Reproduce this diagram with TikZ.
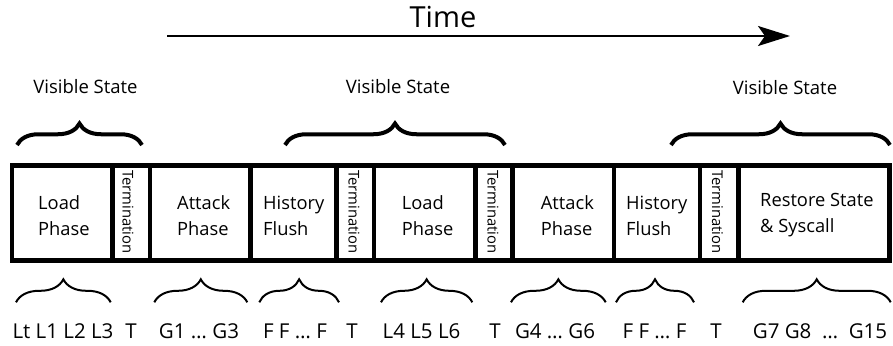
\documentclass[tikz,border=0pt]{standalone}
\usepackage{fontspec}
\setmainfont{Open Sans}
\usetikzlibrary{arrows.meta,decorations.pathreplacing}
\newcommand\myfs[1]{\fontsize{#1}{#1}\selectfont}
\begin{document}
\begin{tikzpicture}[x=1pt,y=-1pt,
  seg/.style={draw, line width=4.5pt, inner sep=0pt, outer sep=0pt, minimum height=95pt},
  boxtext/.style={anchor=base west, inner sep=0pt, font=\myfs{18.3}},
  termtext/.style={rotate=-90, inner sep=0pt, font=\myfs{14.8}},
  vistext/.style={anchor=base, inner sep=0pt, font=\myfs{18.5}},
  bottext/.style={anchor=base, inner sep=0pt, font=\myfs{20.5}},
  topbrace/.style={decorate, decoration={brace, amplitude=21.5pt}, line width=4pt},
  botbrace/.style={decorate, decoration={brace, amplitude=23pt}, line width=2pt}]
\useasboundingbox (0,0) rectangle (893,345);

% time arrow
\node[anchor=base, inner sep=0pt, font=\myfs{29}] (time) at (443,28) {Time};
\coordinate (ta) at (167,36);
\coordinate (tb) at (790,36);
\draw[line width=2.2pt, -{Stealth[length=32pt,width=20pt,inset=7pt]}] (ta) -- (tb);

% segments
\node[seg, minimum width=100.7pt] (s1) at (62.35,213) {};
\node[seg, minimum width=37.3pt] (s2) at (131.35,213) {};
\node[seg, minimum width=100.7pt] (s3) at (200.35,213) {};
\node[seg, minimum width=86pt] (s4) at (293.7,213) {};
\node[seg, minimum width=37.3pt] (s5) at (355.35,213) {};
\node[seg, minimum width=101.7pt] (s6) at (424.85,213) {};
\node[seg, minimum width=37pt] (s7) at (494.2,213) {};
\node[seg, minimum width=101.3pt] (s8) at (563.35,213) {};
\node[seg, minimum width=86pt] (s9) at (657,213) {};
\node[seg, minimum width=38.3pt] (s10) at (719.15,213) {};
\node[seg, minimum width=151.2pt] (s11) at (813.9,213) {};

% segment texts
\node[boxtext] (l1a) at (38,209) {Load};
\node[boxtext] (l1b) at (38,235) {Phase};
\node[boxtext] (a1a) at (177,209) {Attack};
\node[boxtext] (a1b) at (177,235) {Phase};
\node[boxtext] (h1a) at (263,209) {History};
\node[boxtext] (h1b) at (263,235) {Flush};
\node[boxtext] (l2a) at (401.7,209) {Load};
\node[boxtext] (l2b) at (401.7,235) {Phase};
\node[boxtext] (a2a) at (540.7,209) {Attack};
\node[boxtext] (a2b) at (540.7,235) {Phase};
\node[boxtext] (h2a) at (626,209) {History};
\node[boxtext] (h2b) at (626,235) {Flush};
\node[boxtext] (r1a) at (760,206) {Restore State};
\node[boxtext] (r1b) at (760,232) {\& Syscall};

\node[termtext] (t1) at (128,212) {Termination};
\node[termtext] (t2) at (354,212) {Termination};
\node[termtext] (t3) at (493,212) {Termination};
\node[termtext] (t4) at (717.5,212) {Termination};

% visible state
\node[vistext] (v1) at (85.5,93.5) {Visible State};
\node[vistext] (v2) at (398,93.5) {Visible State};
\node[vistext] (v3) at (785,94.5) {Visible State};

\coordinate (vb1a) at (17,145); \coordinate (vb1b) at (142,145);
\coordinate (vb2a) at (285,145); \coordinate (vb2b) at (505,145);
\coordinate (vb3a) at (671,145); \coordinate (vb3b) at (890,145);
\draw[topbrace] (vb1a) -- (vb1b);
\draw[topbrace] (vb2a) -- (vb2b);
\draw[topbrace] (vb3a) -- (vb3b);

% bottom braces
\coordinate (bb1a) at (16,302.3); \coordinate (bb1b) at (110.7,302.3);
\coordinate (bb2a) at (154.3,302.3); \coordinate (bb2b) at (247.3,302.3);
\coordinate (bb3a) at (259.3,302.3); \coordinate (bb3b) at (339,302.3);
\coordinate (bb4a) at (381,302.3); \coordinate (bb4b) at (472.3,302.3);
\coordinate (bb5a) at (511,302.3); \coordinate (bb5b) at (605.7,302.3);
\coordinate (bb6a) at (616,302.3); \coordinate (bb6b) at (694,302.3);
\coordinate (bb7a) at (742.7,302.3); \coordinate (bb7b) at (890.7,302.3);
\draw[botbrace] (bb1a) -- (bb1b);
\draw[botbrace] (bb2a) -- (bb2b);
\draw[botbrace] (bb3a) -- (bb3b);
\draw[botbrace] (bb4a) -- (bb4b);
\draw[botbrace] (bb5a) -- (bb5b);
\draw[botbrace] (bb6a) -- (bb6b);
\draw[botbrace] (bb7a) -- (bb7b);

% bottom labels
\node[bottext] (b1) at (63,338) {Lt L1 L2 L3};
\node[bottext] (b2) at (131,338) {T};
\node[bottext] (b3) at (199,338) {G1 … G3};
\node[bottext] (b4) at (295,338) {F F … F};
\node[bottext] (b5) at (352,338) {T};
\node[bottext] (b6) at (421.5,338) {L4 L5 L6};
\node[bottext] (b7) at (495,338) {T};
\node[bottext] (b8) at (555,338) {G4 … G6};
\node[bottext] (b9) at (654.5,338) {F F … F};
\node[bottext] (b10) at (716,338) {T};
\node[bottext] (b11) at (820,338) {G7 G8 \ … \ G15};
\end{tikzpicture}
\end{document}
